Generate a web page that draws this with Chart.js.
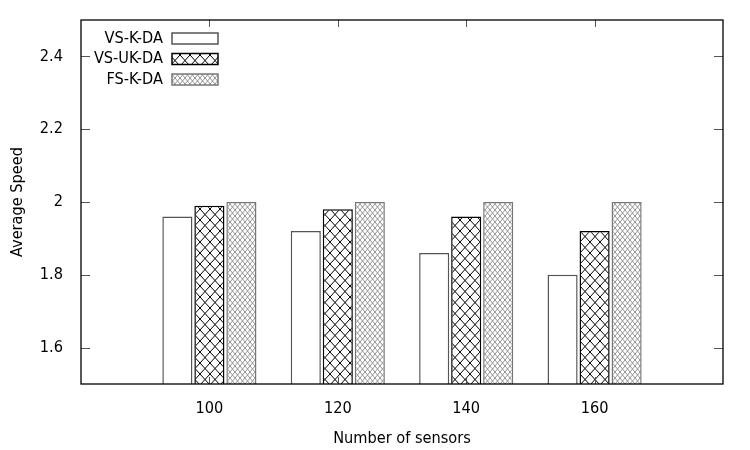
<!DOCTYPE html>
<html>
<head>
<meta charset="utf-8">
<script src="https://cdn.jsdelivr.net/npm/chart.js@4/dist/chart.umd.min.js"></script>
<style>
    body { margin: 0; background: #fff; }
    #wrap { width: 750px; height: 450px; position: relative; }
</style>
</head>
<body>
<div id="wrap"><canvas id="speed-chart"></canvas></div>
<script>
// Chart data
const categories = ['100', '120', '140', '160'];
const seriesNames = ['VS-K-DA', 'VS-UK-DA', 'FS-K-DA'];
const vsKda = [1.96, 1.92, 1.86, 1.80];
const vsUkda = [1.99, 1.98, 1.96, 1.92];
const fsKda = [2.00, 2.00, 2.00, 2.00];
const yTicks = [1.6, 1.8, 2, 2.2, 2.4];
const yMin = 1.5;
const yMax = 2.5;

const FONT = { family: '"DejaVu Sans Condensed", "DejaVu Sans", sans-serif', size: 16.2 };

// crosshatch fill like gnuplot's patterns
function makeHatch(w, h, lineColor, lineWidth) {
    const c = document.createElement('canvas');
    c.width = w;
    c.height = h;
    const ctx = c.getContext('2d');
    ctx.fillStyle = '#fff';
    ctx.fillRect(0, 0, w, h);
    ctx.strokeStyle = lineColor;
    ctx.lineWidth = lineWidth;
    ctx.beginPath();
    for (let k = -1; k <= 1; k++) {
        ctx.moveTo(k * w, 0);
        ctx.lineTo(k * w + w, h);
        ctx.moveTo(k * w + w, 0);
        ctx.lineTo(k * w, h);
    }
    ctx.stroke();
    return ctx.createPattern(c, 'repeat');
}

// pad with empty slots so the groups sit inside the frame
const labels = [''].concat(categories, ['']);
function pad(arr) {
    return [null].concat(arr, [null]);
}

const datasets = [
    {
        label: seriesNames[0],
        data: pad(vsKda),
        backgroundColor: '#ffffff',
        borderColor: '#555555'
    },
    {
        label: seriesNames[1],
        data: pad(vsUkda),
        backgroundColor: makeHatch(10, 11, '#000000', 1),
        borderColor: '#000000'
    },
    {
        label: seriesNames[2],
        data: pad(fsKda),
        backgroundColor: makeHatch(5, 6, '#8a8a8a', 0.9),
        borderColor: '#777777'
    }
];
datasets.forEach(ds => {
    ds.borderWidth = 1.5;
    ds.categoryPercentage = 0.748;
    ds.barPercentage = 0.94;
});

// frame, inward ticks and the gnuplot style key
const framePlugin = {
    id: 'frame',
    afterDatasetsDraw(chart) {
        const ctx = chart.ctx;
        const a = chart.chartArea;
        const x = chart.scales.x;
        const y = chart.scales.y;
        ctx.save();

        ctx.strokeStyle = '#555';
        ctx.lineWidth = 1;
        ctx.beginPath();
        y.ticks.forEach(t => {
            const py = Math.round(y.getPixelForValue(t.value)) + 0.5;
            ctx.moveTo(a.left, py);
            ctx.lineTo(a.left + 9, py);
            ctx.moveTo(a.right, py);
            ctx.lineTo(a.right - 9, py);
        });
        labels.forEach((lab, i) => {
            if (!lab) return;
            const px = Math.round(x.getPixelForValue(i)) + 0.5;
            ctx.moveTo(px, a.bottom);
            ctx.lineTo(px, a.bottom - 7);
            ctx.moveTo(px, a.top);
            ctx.lineTo(px, a.top + 7);
        });
        ctx.stroke();

        ctx.strokeStyle = '#000';
        ctx.lineWidth = 1.3;
        ctx.strokeRect(a.left, a.top, a.right - a.left, a.bottom - a.top);

        // key
        ctx.font = FONT.size + 'px ' + FONT.family;
        ctx.textAlign = 'right';
        ctx.textBaseline = 'middle';
        chart.data.datasets.forEach((ds, i) => {
            const cy = a.top + 18.5 + i * 20.5;
            ctx.fillStyle = '#000';
            ctx.fillText(ds.label, a.left + 82, cy);
            ctx.fillStyle = ds.backgroundColor;
            ctx.fillRect(a.left + 91, cy - 5.5, 46, 11);
            ctx.strokeStyle = ds.borderColor;
            ctx.lineWidth = 1.5;
            ctx.strokeRect(a.left + 91, cy - 5.5, 46, 11);
        });
        ctx.restore();
    }
};

new Chart(document.getElementById('speed-chart'), {
    type: 'bar',
    data: { labels: labels, datasets: datasets },
    options: {
        responsive: true,
        maintainAspectRatio: false,
        animation: false,
        layout: { padding: { top: 20, right: 27, left: 0, bottom: 0 } },
        plugins: {
            legend: { display: false },
            tooltip: { enabled: false }
        },
        scales: {
            x: {
                offset: false,
                grid: { display: false, offset: false },
                border: { display: false },
                ticks: { color: '#000', font: FONT, padding: 7, maxRotation: 0, autoSkip: false },
                title: { display: true, text: 'Number of sensors', color: '#000', font: FONT, padding: { top: 0, bottom: 1 } },
                afterFit: function(scale) { scale.height = 66; }
            },
            y: {
                min: yMin,
                max: yMax,
                grid: { display: false },
                border: { display: false },
                afterBuildTicks: function(scale) {
                    scale.ticks = yTicks.map(v => ({ value: v }));
                },
                ticks: {
                    color: '#000',
                    font: FONT,
                    padding: 10,
                    callback: function(value) { return String(value); }
                },
                title: { display: true, text: 'Average Speed', color: '#000', font: FONT, padding: { top: 8, bottom: 0 } },
                afterFit: function(scale) { scale.width = 81; }
            }
        }
    },
    plugins: [framePlugin]
});
</script>
</body>
</html>
